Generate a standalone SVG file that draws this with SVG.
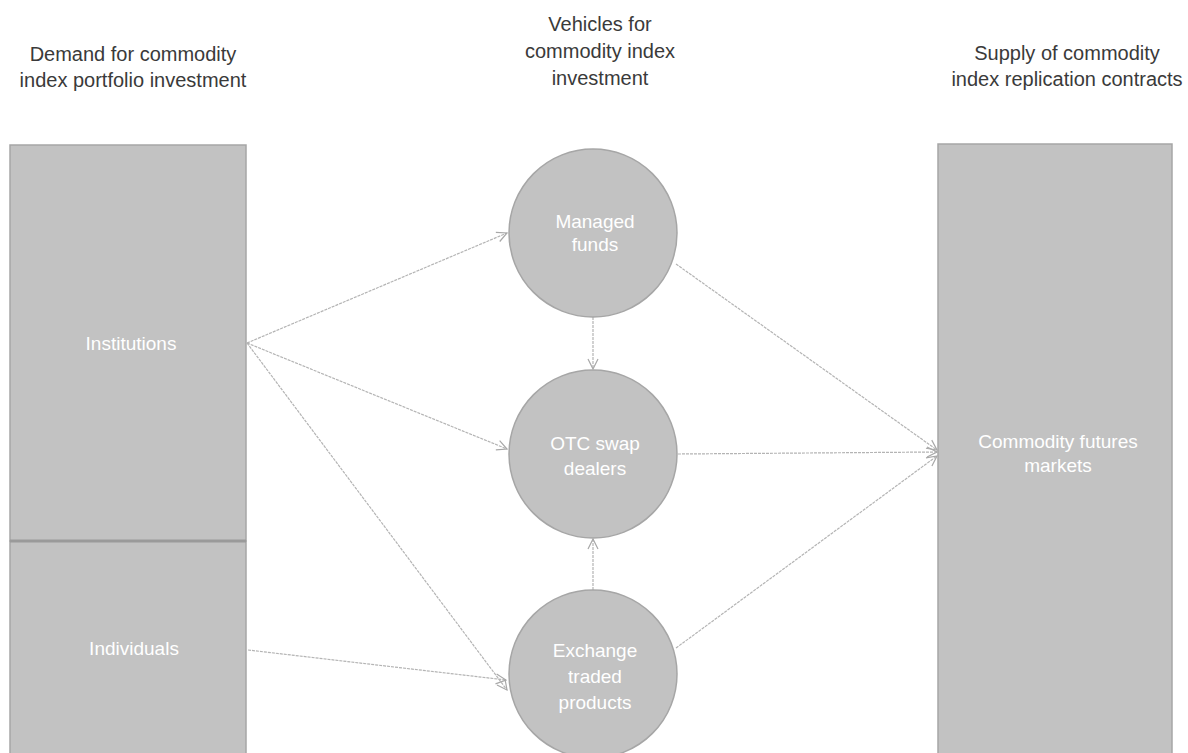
<svg xmlns="http://www.w3.org/2000/svg" width="1188" height="753" viewBox="0 0 1188 753">
<style>
.hdr{font-family:"Liberation Sans",Arial,sans-serif;font-size:20px;fill:#3a3a3a;text-anchor:middle}
.lbl{font-family:"Liberation Sans",Arial,sans-serif;font-size:19px;fill:#ffffff;text-anchor:middle}
.box{fill:#c2c2c2;stroke:#a6a6a6;stroke-width:1.5}
.conn{fill:none;stroke:#b4b4b4;stroke-width:1.2;stroke-dasharray:3 1}
</style>
<defs>
<marker id="arr" viewBox="0 0 12 12" refX="11" refY="6" markerWidth="12" markerHeight="12" markerUnits="userSpaceOnUse" orient="auto">
<path d="M1,1 L11,6 L1,11" fill="none" stroke="#a8a8a8" stroke-width="1.2"/>
</marker>
</defs>
<rect width="1188" height="753" fill="#ffffff"/>
<g id="headers">
<text class="hdr" x="133" y="61">Demand for commodity</text>
<text class="hdr" x="133" y="87">index portfolio investment</text>
<text class="hdr" x="600" y="31">Vehicles for</text>
<text class="hdr" x="600" y="58">commodity index</text>
<text class="hdr" x="600" y="85">investment</text>
<text class="hdr" x="1067" y="60">Supply of commodity</text>
<text class="hdr" x="1067" y="86">index replication contracts</text>
</g>
<g id="connectors">
<line class="conn" x1="247" y1="343" x2="507" y2="233" marker-end="url(#arr)"/>
<line class="conn" x1="247" y1="343" x2="507" y2="449" marker-end="url(#arr)"/>
<line class="conn" x1="247" y1="343" x2="507" y2="690" marker-end="url(#arr)"/>
<line class="conn" x1="248" y1="650" x2="506" y2="680" marker-end="url(#arr)"/>
<line class="conn" x1="593" y1="317" x2="593" y2="369" marker-end="url(#arr)"/>
<line class="conn" x1="593" y1="590" x2="593" y2="539" marker-end="url(#arr)"/>
<line class="conn" x1="676" y1="264" x2="937" y2="450" marker-end="url(#arr)"/>
<line class="conn" x1="678" y1="454" x2="937" y2="452" marker-end="url(#arr)"/>
<line class="conn" x1="676" y1="648" x2="937" y2="456" marker-end="url(#arr)"/>
</g>
<g id="institutions">
<rect class="box" x="10" y="145" width="236" height="396"/>
<text class="lbl" x="131" y="350">Institutions</text>
</g>
<g id="individuals">
<rect class="box" x="10" y="541" width="236" height="220"/>
<line x1="10" y1="541" x2="246" y2="541" stroke="#9a9a9a" stroke-width="3"/>
<text class="lbl" x="134" y="655">Individuals</text>
</g>
<g id="managed-funds">
<circle class="box" cx="593" cy="233" r="84"/>
<text class="lbl" x="595" y="228">Managed</text>
<text class="lbl" x="595" y="251">funds</text>
</g>
<g id="otc-swap-dealers">
<circle class="box" cx="593" cy="454" r="84"/>
<text class="lbl" x="595" y="450">OTC swap</text>
<text class="lbl" x="595" y="475">dealers</text>
</g>
<g id="exchange-traded-products">
<circle class="box" cx="593" cy="674" r="84"/>
<text class="lbl" x="595" y="657">Exchange</text>
<text class="lbl" x="595" y="683">traded</text>
<text class="lbl" x="595" y="709">products</text>
</g>
<g id="commodity-futures-markets">
<rect class="box" x="938" y="144" width="234" height="620"/>
<text class="lbl" x="1058" y="448">Commodity futures</text>
<text class="lbl" x="1058" y="472">markets</text>
</g>
</svg>
